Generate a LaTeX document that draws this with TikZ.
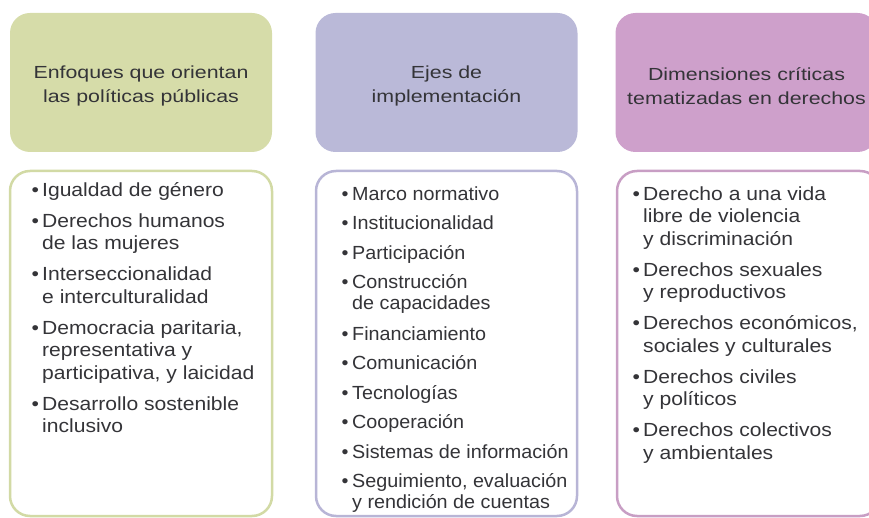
\documentclass[tikz,border=0pt]{standalone}
\usepackage{fontspec}
\setmainfont[FakeStretch=1.11]{Liberation Sans}
\newfontfamily\ejesfont[FakeStretch=1.04]{Liberation Sans}
\newfontfamily\cabfont[FakeStretch=1.22]{Liberation Sans}
\usepackage{xcolor}
\usetikzlibrary{positioning}

\definecolor{verde}{RGB}{214,220,169}
\definecolor{verdeb}{RGB}{210,218,165}
\definecolor{lila}{RGB}{186,185,216}
\definecolor{lilab}{RGB}{184,181,214}
\definecolor{rosa}{RGB}{206,160,203}
\definecolor{rosab}{RGB}{200,158,196}
\definecolor{texto}{RGB}{52,52,56}

\newcommand{\bul}{\makebox[14pt][c]{•}}
\newcommand{\ind}{\hspace*{14pt}}

\begin{document}
\begin{tikzpicture}[x=1pt,y=-1pt,
    cabecera/.style={rounded corners=20pt, fill=#1, minimum width=262pt, minimum height=139pt, inner sep=0pt},
    titulo/.style={inner sep=0pt, align=center, text=texto, font=\cabfont\fontsize{17.5}{24}\selectfont},
    caja/.style={draw=#1, line width=2.5pt, rounded corners=20pt, fill=white,
        minimum height=345pt, inner sep=0pt},
    lista/.style={anchor=north west, inner sep=0pt, align=left, text=texto,
        font=\fontsize{19}{#1}\selectfont}]
\useasboundingbox (0,0) rectangle (869,518);
\clip (0,0) rectangle (869,518);

% cabeceras
\node[cabecera=verde] (enfoques) at (141,82.5) {};
\node[cabecera=lila] (ejes) at (446.5,82.5) {};
\node[cabecera=rosa] (dimensiones) at (746.5,82.5) {};
\node[titulo] (tEnfoques) at ([yshift=-3.3pt]enfoques.center) {Enfoques que orientan\\las políticas públicas};
\node[titulo] (tEjes) at ([yshift=-3.3pt]ejes.center) {Ejes de\\implementación};
\node[titulo] (tDimensiones) at ([yshift=-3.3pt]dimensiones.center) {Dimensiones críticas\\tematizadas en derechos};

% cajas
\node[caja=verdeb, minimum width=262pt] (cajaEnf) at (141,343.5) {};
\node[caja=lilab, minimum width=261pt] (cajaEjes) at (446.5,343.5) {};
\node[caja=rosab, minimum width=263pt] (cajaDim) at (748.5,343.5) {};

\node[lista=22.5] (listaEnf) at (28,180.25) {\strut\bul Igualdad de género\\[8.5pt]
    \bul Derechos humanos\\ \ind de las mujeres\\[8.5pt]
    \bul Interseccionalidad\\ \ind e interculturalidad\\[8.5pt]
    \bul Democracia paritaria,\\ \ind representativa y\\ \ind participativa, y laicidad\\[8.5pt]
    \bul Desarrollo sostenible\\ \ind inclusivo};

\node[lista=21, font=\ejesfont\fontsize{19}{21}\selectfont] (listaEjes) at (338,185.3) {\strut\bul Marco normativo\\[8.5pt]
    \bul Institucionalidad\\[8.5pt]
    \bul Participación\\[8.5pt]
    \bul Construcción\\ \ind de capacidades\\[9.5pt]
    \bul Financiamiento\\[8.5pt]
    \bul Comunicación\\[8.5pt]
    \bul Tecnologías\\[8.5pt]
    \bul Cooperación\\[8.5pt]
    \bul Sistemas de información\\[8.5pt]
    \bul Seguimiento, evaluación\\ \ind y rendición de cuentas};

\node[lista=22.5] (listaDim) at (629,184.25) {\strut\bul Derecho a una vida\\ \ind libre de violencia\\ \ind y discriminación\\[8.5pt]
    \bul Derechos sexuales\\ \ind y reproductivos\\[8.5pt]
    \bul Derechos económicos,\\ \ind sociales y culturales\\[8.5pt]
    \bul Derechos civiles\\ \ind y políticos\\[8.5pt]
    \bul Derechos colectivos\\ \ind y ambientales};
\end{tikzpicture}
\end{document}
